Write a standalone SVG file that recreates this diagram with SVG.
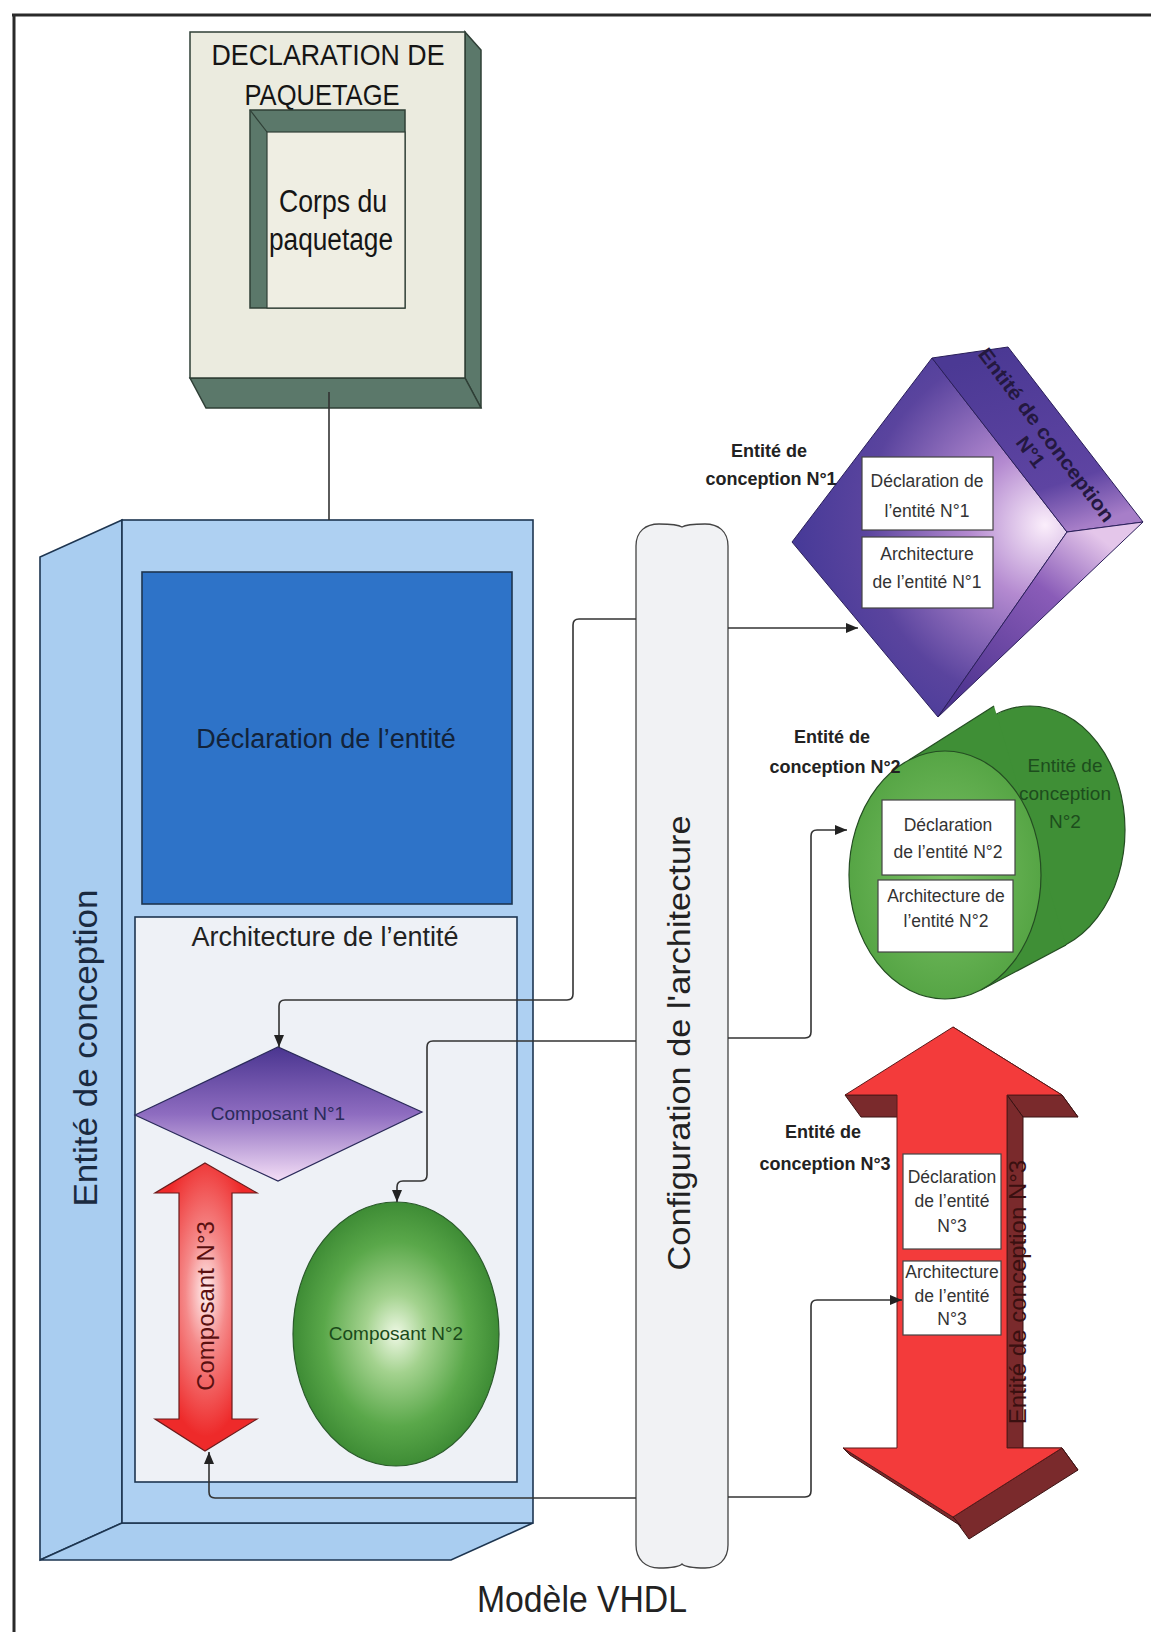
<svg xmlns="http://www.w3.org/2000/svg" width="1151" height="1632" viewBox="0 0 1151 1632">
<style>
text{font-family:"Liberation Sans",Arial,Helvetica,sans-serif}
.frame{stroke:#2a2a2a;stroke-width:3;fill:none}
.conn{stroke:#333;stroke-width:1.6;fill:none}
.wbox{fill:#ffffff;stroke:#444;stroke-width:1.2}
.wt{font-size:17.5px;fill:#333;text-anchor:middle}
.lab{font-size:18px;font-weight:bold;fill:#222;text-anchor:middle}
.ent{stroke:#1d3550;stroke-width:1.6}
</style>
<defs>
<marker id="ah" markerUnits="userSpaceOnUse" markerWidth="12" markerHeight="10" refX="12" refY="5" orient="auto">
<path d="M0,0 L12,5 L0,10 Z" fill="#222"/>
</marker>
<linearGradient id="gDiamond" x1="0" y1="0" x2="0" y2="1">
<stop offset="0" stop-color="#4a3590"/><stop offset="0.5" stop-color="#8e6cc0"/><stop offset="1" stop-color="#f4def6"/>
</linearGradient>
<radialGradient id="gBall" cx="0.5" cy="0.5" r="0.5">
<stop offset="0" stop-color="#eef8e4"/><stop offset="0.3" stop-color="#a3d28e"/><stop offset="0.7" stop-color="#5aa84a"/><stop offset="1" stop-color="#3e8c35"/>
</radialGradient>
<radialGradient id="gRedComp" cx="0.5" cy="0.45" r="0.5">
<stop offset="0" stop-color="#fff2f2"/><stop offset="0.4" stop-color="#f58a8a"/><stop offset="1" stop-color="#ee2a2a"/>
</radialGradient>
<radialGradient id="gCubeFront" gradientUnits="userSpaceOnUse" cx="1045" cy="525" r="250">
<stop offset="0" stop-color="#fbeefb"/><stop offset="0.3" stop-color="#b48ad0"/><stop offset="0.72" stop-color="#5a449e"/><stop offset="1" stop-color="#473a98"/>
</radialGradient>
<linearGradient id="gCubeTop" gradientUnits="userSpaceOnUse" x1="1008" y1="347" x2="1067" y2="532">
<stop offset="0" stop-color="#4b3994"/><stop offset="0.75" stop-color="#5e44a2"/><stop offset="1" stop-color="#a77ec8"/>
</linearGradient>
<linearGradient id="gCubeSide" gradientUnits="userSpaceOnUse" x1="1090" y1="530" x2="960" y2="700">
<stop offset="0" stop-color="#e4c6ea"/><stop offset="0.35" stop-color="#8a5cb8"/><stop offset="1" stop-color="#4e3490"/>
</linearGradient>
<radialGradient id="gCylFront" cx="0.5" cy="0.5" r="0.5">
<stop offset="0" stop-color="#7cc266"/><stop offset="1" stop-color="#56a545"/>
</radialGradient>
</defs>

<g id="frame">
<line class="frame" x1="12" y1="15" x2="1151" y2="15"/>
<line class="frame" x1="14" y1="14" x2="14" y2="1632"/>
</g>

<g id="package">
<polygon points="465,32 481,50 481,408 465,378" fill="#5b786a" stroke="#2f3f36" stroke-width="1.5"/>
<polygon points="190,378 465,378 481,408 206,408" fill="#5b786a" stroke="#2f3f36" stroke-width="1.5"/>
<rect x="190" y="32" width="275" height="346" fill="#ebebdf" stroke="#2f3f36" stroke-width="1.5"/>
<text x="328" y="65" font-size="29" fill="#151515" text-anchor="middle" textLength="233" lengthAdjust="spacingAndGlyphs">DECLARATION DE</text>
<text x="322" y="105" font-size="29" fill="#151515" text-anchor="middle" textLength="155" lengthAdjust="spacingAndGlyphs">PAQUETAGE</text>
<g id="package-body">
<rect x="250" y="110" width="155" height="198" fill="#5b786a" stroke="#2f3f36" stroke-width="1.5"/>
<rect x="267" y="132" width="138" height="176" fill="#efeee3" stroke="#2f3f36" stroke-width="1.2"/>
<line x1="250" y1="110" x2="267" y2="132" stroke="#2f3f36" stroke-width="1.2"/>
<text x="333" y="212" font-size="31" fill="#151515" text-anchor="middle" textLength="108" lengthAdjust="spacingAndGlyphs">Corps du</text>
<text x="331" y="250" font-size="31" fill="#151515" text-anchor="middle" textLength="124" lengthAdjust="spacingAndGlyphs">paquetage</text>
</g>
</g>

<g id="entity">
<polygon class="ent" points="122,520 40,557 40,1560 122,1523" fill="#a9cdf0"/>
<polygon class="ent" points="122,1523 533,1523 451,1560 40,1560" fill="#a9cdf0"/>
<rect class="ent" x="122" y="520" width="411" height="1003" fill="#aed0f2"/>
<text transform="translate(97,1048) rotate(-90)" font-size="33" fill="#1a2a40" text-anchor="middle" textLength="317" lengthAdjust="spacingAndGlyphs">Entité de conception</text>
</g>

<g id="entity-declaration">
<rect x="142" y="572" width="370" height="332" fill="#2e73c8" stroke="#1d3550" stroke-width="1.6"/>
<text x="326" y="748" font-size="27" fill="#13233a" text-anchor="middle">Déclaration de l’entité</text>
</g>

<g id="entity-architecture">
<rect x="135" y="917" width="382" height="565" fill="#eef1f6" stroke="#1d3550" stroke-width="1.6"/>
<text x="325" y="946" font-size="27" fill="#222" text-anchor="middle">Architecture de l’entité</text>
</g>

<g id="composant1">
<polygon points="135,1115 278,1047 422,1112 278,1181" fill="url(#gDiamond)" stroke="#2a2a5a" stroke-width="1.2"/>
<text x="278" y="1120" font-size="19" fill="#2a2a5a" text-anchor="middle">Composant N°1</text>
</g>

<g id="composant2">
<ellipse cx="396" cy="1334" rx="103" ry="132" fill="url(#gBall)" stroke="#2a5a2a" stroke-width="1.2"/>
<text x="396" y="1340" font-size="19" fill="#1a4a1a" text-anchor="middle">Composant N°2</text>
</g>

<g id="composant3">
<polygon points="205,1163 257,1193 232,1193 232,1419 257,1419 205,1451 155,1419 179,1419 179,1193 155,1193" fill="url(#gRedComp)" stroke="#6a1a1a" stroke-width="1.2"/>
<text transform="translate(214,1306) rotate(-90)" font-size="24" fill="#5a1010" text-anchor="middle">Composant N°3</text>
</g>

<g id="configuration">
<path d="M636,546 C636,531 646,524 659,524 C672,524 679,525 682,527 C685,525 692,524 705,524 C718,524 728,531 728,546 V1545 C728,1560 718,1568 705,1568 C692,1568 685,1567 682,1564 C679,1567 672,1568 659,1568 C646,1568 636,1560 636,1545 Z" fill="#f1f2f4" stroke="#444" stroke-width="1.3"/>
<text transform="translate(690,1043) rotate(-90)" font-size="31" fill="#222" text-anchor="middle" textLength="455" lengthAdjust="spacingAndGlyphs">Configuration de l'architecture</text>
</g>

<g id="entite1">
<polygon points="792,542 932,358 1067,532 938,717" fill="url(#gCubeFront)" stroke="#2a1f5a" stroke-width="1"/>
<polygon points="932,358 1008,347 1143,522 1067,532" fill="url(#gCubeTop)" stroke="#2a1f5a" stroke-width="1"/>
<polygon points="1067,532 1143,522 938,717" fill="url(#gCubeSide)" stroke="#2a1f5a" stroke-width="1"/>
<g transform="translate(1041,439) rotate(53)">
<text x="0" y="0" font-size="20" font-weight="bold" fill="#241840" text-anchor="middle" textLength="212" lengthAdjust="spacingAndGlyphs">Entité de conception</text>
<text x="4" y="23" font-size="20" font-weight="bold" fill="#241840" text-anchor="middle">N°1</text>
</g>
<rect class="wbox" x="862" y="457" width="131" height="73"/>
<text class="wt" x="927" y="487">Déclaration de</text>
<text class="wt" x="927" y="517">l’entité N°1</text>
<rect class="wbox" x="862" y="537" width="131" height="71"/>
<text class="wt" x="927" y="560">Architecture</text>
<text class="wt" x="927" y="588">de l’entité N°1</text>
<text class="lab" x="769" y="457">Entité de</text>
<text class="lab" x="771" y="485">conception N°1</text>
</g>

<g id="entite2">
<ellipse cx="1030" cy="830" rx="95" ry="124" fill="#3f8f36" stroke="#244d22" stroke-width="1.2"/>
<polygon points="909,760 994,706 1066,945 981,990" fill="#3f8f36"/>
<line x1="909" y1="760" x2="994" y2="706" stroke="#244d22" stroke-width="1.2"/>
<line x1="981" y1="990" x2="1066" y2="945" stroke="#244d22" stroke-width="1.2"/>
<text x="1065" y="772" font-size="19" fill="#1d4d1d" text-anchor="middle">Entité de</text>
<text x="1065" y="800" font-size="19" fill="#1d4d1d" text-anchor="middle">conception</text>
<text x="1065" y="828" font-size="19" fill="#1d4d1d" text-anchor="middle">N°2</text>
<ellipse cx="945" cy="875" rx="96" ry="124" fill="url(#gCylFront)" stroke="#244d22" stroke-width="1.2"/>
<rect class="wbox" x="882" y="800" width="133" height="75"/>
<text class="wt" x="948" y="831" font-size="18.5">Déclaration</text>
<text class="wt" x="948" y="858" font-size="18.5">de l’entité N°2</text>
<rect class="wbox" x="878" y="880" width="135" height="72"/>
<text class="wt" x="946" y="902" font-size="18.5">Architecture de</text>
<text class="wt" x="946" y="927" font-size="18.5">l’entité N°2</text>
<text class="lab" x="832" y="743" font-size="18.5">Entité de</text>
<text class="lab" x="835" y="773" font-size="18.5">conception N°2</text>
</g>

<g id="entite3">
<g fill="#7a2a2c" stroke="#3a1212" stroke-width="1">
<polygon points="953,1027 1062,1095 1078,1117 969,1049"/>
<polygon points="1062,1095 1007,1095 1023,1117 1078,1117"/>
<polygon points="1007,1095 1007,1448 1023,1470 1023,1117"/>
<polygon points="1007,1448 1062,1448 1078,1470 1023,1470"/>
<polygon points="1062,1448 953,1517 969,1539 1078,1470"/>
<polygon points="845,1095 897,1095 913,1117 861,1117"/>
<polygon points="843,1448 953,1517 961,1526 850,1455"/>
</g>
<polygon points="953,1027 1062,1095 1007,1095 1007,1448 1062,1448 953,1517 843,1448 897,1448 897,1095 845,1095" fill="#f33b3b" stroke="#5a1a1a" stroke-width="1"/>
<text transform="translate(1026,1292) rotate(-90)" font-size="24" fill="#3a1010" text-anchor="middle">Entité de conception N°3</text>
<rect class="wbox" x="903" y="1154" width="98" height="95"/>
<text class="wt" x="952" y="1183" font-size="15">Déclaration</text>
<text class="wt" x="952" y="1207" font-size="15">de l’entité</text>
<text class="wt" x="952" y="1232" font-size="15">N°3</text>
<rect class="wbox" x="903" y="1261" width="98" height="74"/>
<text class="wt" x="952" y="1278" font-size="15">Architecture</text>
<text class="wt" x="952" y="1302" font-size="15">de l’entité</text>
<text class="wt" x="952" y="1325" font-size="15">N°3</text>
<text class="lab" x="823" y="1138" font-size="19">Entité de</text>
<text class="lab" x="825" y="1170" font-size="19">conception N°3</text>
</g>

<g id="connectors">
<path class="conn" d="M329,392 V520"/>
<path class="conn" d="M636,619 H579 Q573,619 573,625 V994 Q573,1000 567,1000 H285 Q279,1000 279,1006 V1047" marker-end="url(#ah)"/>
<path class="conn" d="M728,628 H858" marker-end="url(#ah)"/>
<path class="conn" d="M636,1041 H433 Q427,1041 427,1047 V1175 Q427,1181 421,1181 H403 Q397,1181 397,1187 V1202" marker-end="url(#ah)"/>
<path class="conn" d="M728,1038 H805 Q811,1038 811,1032 V836 Q811,830 817,830 H847" marker-end="url(#ah)"/>
<path class="conn" d="M636,1498 H215 Q209,1498 209,1492 V1452" marker-end="url(#ah)"/>
<path class="conn" d="M728,1497 H805 Q811,1497 811,1491 V1306 Q811,1300 817,1300 H902" marker-end="url(#ah)"/>
</g>

<text id="title" x="582" y="1612" font-size="36" fill="#222" text-anchor="middle" textLength="210" lengthAdjust="spacingAndGlyphs">Modèle VHDL</text>
</svg>
